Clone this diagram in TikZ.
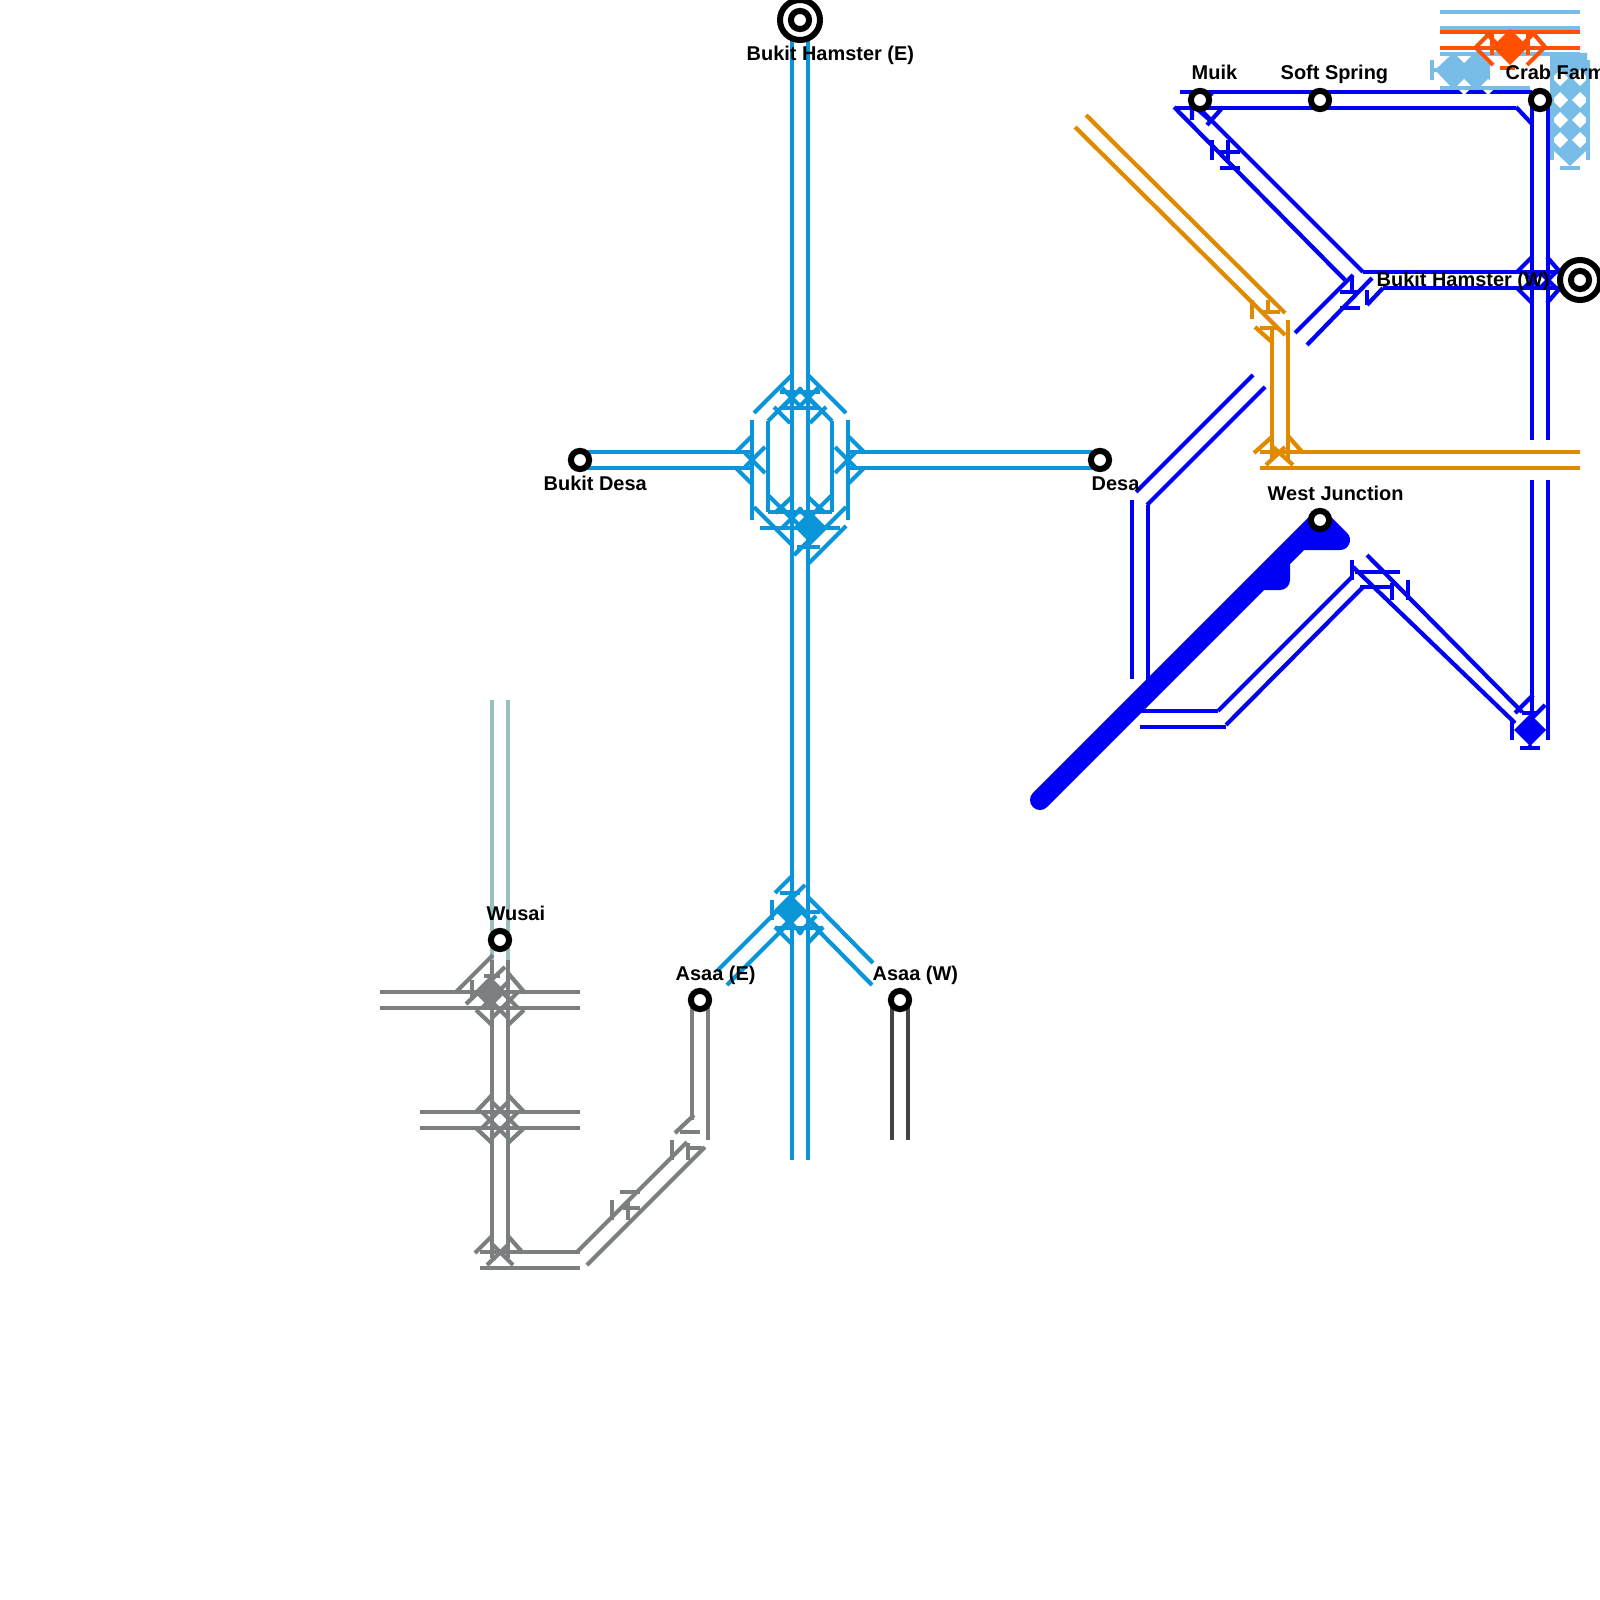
\documentclass[tikz,border=0pt]{standalone}
\usepackage{fontspec}
\setmainfont{Liberation Sans}
\definecolor{centralblue}{HTML}{0995D8}
\definecolor{eastblue}{HTML}{0000F5}
\definecolor{junctionorange}{HTML}{E08A00}
\definecolor{crabred}{HTML}{FF4F00}
\definecolor{crabsky}{HTML}{78BCE8}
\definecolor{wusaigray}{HTML}{7B7F7F}
\definecolor{asaadark}{HTML}{444444}
\definecolor{wusaiteal}{HTML}{99BFBF}
\tikzset{
  track/.style={line width=0.042cm},
  trunk/.style={line width=0.2cm, line cap=round, line join=round},
  station/.style={circle, draw=black, fill=white, line width=0.06cm, minimum size=0.182cm, inner sep=0pt, outer sep=0pt},
  interchange/.style={circle, draw=black, fill=white, line width=0.06cm, minimum size=0.4cm, inner sep=0pt, outer sep=0pt},
  stationlabel/.style={anchor=base west, inner sep=0pt, font=\bfseries\fontsize{5.67pt}{6pt}\selectfont}
}
\begin{document}
\begin{tikzpicture}[x=0.01cm, y=-0.01cm]
    \useasboundingbox (0,0) rectangle (1600,1600);

    % Stations
    \coordinate (hamstereTop) at (800,20);
    \coordinate (westjunctionPt) at (1320,520);

    % Wusai branch
    \draw[track, wusaiteal] (492,700) -- (492,960) (508,700) -- (508,960);

    % Asaa (W) stub
    \draw[track, asaadark] (892,1000) -- (892,1140) (908,1000) -- (908,1140);

    % Central line
    \begin{scope}[track, centralblue]
    \draw (hamstereTop) ++(-8,0) -- (792,1160);
    \draw (hamstereTop) ++(8,0) -- (808,1160);
    \draw (580,452) -- (752,452) (580,468) -- (752,468);
    \draw (848,452) -- (1100,452) (848,468) -- (1100,468);
    \draw (752,420) -- (752,520) (848,420) -- (848,520);
    \draw (768,421) -- (768,512) (832,421) -- (832,512);
    % upper junction
    \draw (754,413) -- (792,375) (846,413) -- (808,375);
    \draw (768,421) -- (792,397) (832,421) -- (808,397);
    \draw (774,407) -- (790,423) (826,407) -- (810,423);
    \draw (780,392) -- (820,392) (782,408) -- (818,408);
    \draw (782,408) -- (802,388) (818,408) -- (798,388);
    \draw (782,388) -- (802,408) (818,388) -- (798,408);
    % left and right junctions
    \draw (736,452) -- (752,436) (736,468) -- (752,484);
    \draw (864,452) -- (848,436) (864,468) -- (848,484);
    \draw (765,447) -- (745,467) (765,473) -- (745,453);
    \draw (835,447) -- (855,467) (835,473) -- (855,453);
    % lower junction
    \draw (754,507) -- (792,545) (846,507) -- (808,545);
    \draw (768,495) -- (790,517) (832,495) -- (810,517);
    \draw (792,497) -- (775,513) (808,497) -- (825,513);
    \draw (768,512) -- (832,512) (760,528) -- (840,528);
    \draw (846,526) -- (808,564) (823,527) -- (794,555);
    \draw (797,547) -- (820,547);
    \draw (782,528) -- (802,508) (818,528) -- (798,508);
    \draw (782,508) -- (802,528);
    \fill (810,511) -- (826,527) -- (810,543) -- (794,527) -- cycle;
    % Asaa junction
    \draw (717,971) -- (778,910) (727,985) -- (790,922);
    \draw (808,897) -- (873,963) (810,922) -- (872,985);
    \draw (775,893) -- (793,875) (805,885) -- (787,903);
    \draw (772,900) -- (772,920);
    \draw (780,893) -- (800,893) (775,912) -- (820,912) (775,928) -- (823,928);
    \draw (775,927) -- (793,945) (823,927) -- (808,943);
    \draw (782,928) -- (802,908) (818,928) -- (798,908);
    \draw (784,916) -- (802,934) (816,916) -- (798,934);
    \fill (790,894) -- (806,910) -- (790,926) -- (774,910) -- cycle;
    \end{scope}

    % Gray line
    \begin{scope}[track, wusaigray]
    \draw (380,992) -- (580,992) (380,1008) -- (580,1008);
    \draw (420,1112) -- (580,1112) (420,1128) -- (580,1128);
    \draw (480,1252) -- (580,1252) (480,1268) -- (580,1268);
    \draw (492,960) -- (492,1258) (508,960) -- (508,1258);
    \draw (456,992) -- (493,955) (466,1004) -- (505,967);
    \draw (472,980) -- (472,1000) (484,976) -- (500,976);
    \draw (476,1010) -- (492,1025) (524,1010) -- (508,1025);
    \draw (508,973) -- (525,993);
    \draw (482,1008) -- (508,982) (492,982) -- (518,1008);
    \draw (482,992) -- (508,1018) (518,992) -- (492,1018);
    \fill (490,976) -- (506,992) -- (490,1008) -- (474,992) -- cycle;
    % middle crossing
    \draw (476,1112) -- (492,1095) (524,1112) -- (508,1095);
    \draw (476,1128) -- (492,1143) (524,1128) -- (508,1143);
    \draw (482,1128) -- (508,1102) (492,1102) -- (518,1128);
    \draw (482,1112) -- (508,1138) (518,1112) -- (492,1138);
    % bottom corner
    \draw (475,1253) -- (492,1236) (523,1253) -- (508,1236);
    \draw (487,1265) -- (508,1245) (513,1265) -- (493,1245);
    % diagonal to Asaa (E)
    \draw (577,1252) -- (687,1142) (587,1265) -- (705,1147);
    \draw (612,1200) -- (612,1220) (628,1200) -- (628,1220);
    \draw (620,1192) -- (640,1192) (623,1208) -- (640,1208);
    \draw (672,1140) -- (672,1160) (688,1143) -- (688,1160);
    \draw (680,1132) -- (700,1132) (687,1148) -- (702,1148);
    \draw (675,1133) -- (694,1115);
    \draw (700,1000) ++(-8,0) -- (692,1120) (700,1000) ++(8,0) -- (708,1140);
    \end{scope}

    % Orange line
    \begin{scope}[track, junctionorange]
    \draw (1075,127) -- (1285,335) (1086,115) -- (1285,313);
    \draw (1272,327) -- (1272,460) (1288,320) -- (1288,460);
    \draw (1252,300) -- (1252,319) (1268,300) -- (1268,313);
    \draw (1263,312) -- (1280,312) (1260,328) -- (1277,328);
    \draw (1255,327) -- (1273,343);
    \draw (1260,452) -- (1580,452) (1260,468) -- (1580,468);
    \draw (1254,453) -- (1273,436) (1303,453) -- (1288,436);
    \draw (1266,465) -- (1285,447) (1293,465) -- (1273,447);
    \end{scope}

    % Thick line at West Junction
    \draw[trunk, eastblue] (1040,800) -- (westjunctionPt) -- (1340,540) -- (1300,540) -- (1280,560) -- (1280,580) -- (1260,580);

    % Blue line
    \begin{scope}[track, eastblue]
    \draw (1180,92) -- (1532,92) (1175,108) -- (1516,108);
    \draw (1516,107) -- (1532,124);
    \draw (1532,92) -- (1532,440) (1548,100) -- (1548,440);
    \draw (1532,480) -- (1532,740) (1548,480) -- (1548,740);
    \draw (1174,107) -- (1345,280) (1203,112) -- (1363,272);
    % Muik junction
    \draw (1223,107) -- (1207,125) (1212,93) -- (1198,108);
    \draw (1192,100) -- (1192,120) (1196,108) -- (1212,122);
    \draw (1212,140) -- (1212,160) (1228,140) -- (1228,160);
    \draw (1218,152) -- (1240,152) (1220,168) -- (1240,168);
    % Bukit Hamster (W) junction
    \draw (1363,272) -- (1560,272) (1383,288) -- (1560,288);
    \draw (1532,257) -- (1517,272) (1547,257) -- (1560,272);
    \draw (1517,288) -- (1532,303) (1547,303) -- (1560,288);
    \draw (1524,272) -- (1540,288) (1540,272) -- (1524,288);
    \draw (1540,272) -- (1556,288) (1556,272) -- (1540,288);
    \draw (1295,333) -- (1353,275) (1307,345) -- (1372,278);
    \draw (1367,305) -- (1383,288);
    \draw (1340,292) -- (1357,292) (1340,308) -- (1360,308);
    \draw (1352,277) -- (1352,293) (1367,290) -- (1367,305);
    % Middle section
    \draw (1253,375) -- (1136,492) (1265,387) -- (1147,505);
    \draw (1132,500) -- (1132,679) (1148,505) -- (1148,700);
    \draw (1140,711) -- (1218,711) (1140,727) -- (1226,727);
    \draw (1218,711) -- (1352,577) (1226,725) -- (1363,587);
    \draw (1367,555) -- (1522,712) (1353,567) -- (1515,723);
    \draw (1352,560) -- (1352,580) (1392,583) -- (1392,600) (1408,580) -- (1408,600);
    \draw (1355,572) -- (1400,572) (1360,587) -- (1393,587);
    % Lower junction
    \draw (1515,713) -- (1533,695) (1545,705) -- (1527,723);
    \draw (1512,720) -- (1512,740) (1522,713) -- (1538,713);
    \draw (1520,748) -- (1540,748) (1530,745) -- (1530,748);
    \fill (1530,714) -- (1546,730) -- (1530,746) -- (1514,730) -- cycle;
    \end{scope}

    % Crab Farm tangle
    \fill[crabsky] (1435,70) -- (1452,54) -- (1490,54) -- (1490,88) -- (1452,88) -- cycle;
    \fill[crabsky] (1553,53) -- (1587,53) -- (1587,150) -- (1570,166) -- (1553,150) -- cycle;
    \foreach \cx/\cy in {1464/55, 1464/87, 1488/55, 1488/87, 1560/78, 1580/78, 1560/100, 1580/100, 1560/120, 1580/120, 1560/140, 1580/140} {
      \fill[white] (\cx,\cy-8) -- (\cx+8,\cy) -- (\cx,\cy+8) -- (\cx-8,\cy) -- cycle;
    }
    \begin{scope}[track, crabsky]
    \draw (1440,12) -- (1580,12) (1440,28) -- (1580,28);
    \draw (1440,54) -- (1580,54) (1440,88) -- (1530,88);
    \draw (1432,60) -- (1432,80) (1552,55) -- (1552,160) (1588,60) -- (1588,160);
    \draw (1560,168) -- (1580,168) (1432,70) -- (1440,70);
    \end{scope}
    \begin{scope}[track, crabred]
    \draw (1440,32) -- (1580,32) (1440,48) -- (1580,48);
    \draw (1476,47) -- (1490,33) (1545,47) -- (1533,33);
    \draw (1475,47) -- (1493,65) (1545,47) -- (1527,65);
    \draw (1486,33) -- (1510,57) (1534,33) -- (1510,57);
    \draw (1492,32) -- (1492,55) (1528,32) -- (1528,55);
    \draw (1500,68) -- (1515,68);
    \fill (1510,29) -- (1528,47) -- (1510,65) -- (1492,47) -- cycle;
    \end{scope}

    % Station markers
    \node[interchange] (hamstereOuter) at (hamstereTop) {};
    \node[station] (hamstere) at (hamstereTop) {};
    \node[interchange] (hamsterwOuter) at (1580,280) {};
    \node[station] (hamsterw) at (1580,280) {};
    \node[station] (bukitdesa) at (580,460) {};
    \node[station] (desa) at (1100,460) {};
    \node[station] (muik) at (1200,100) {};
    \node[station] (softspring) at (1320,100) {};
    \node[station] (crabfarm) at (1540,100) {};
    \node[station] (westjunction) at (westjunctionPt) {};
    \node[station] (wusai) at (500,940) {};
    \node[station] (asaae) at (700,1000) {};
    \node[station] (asaaw) at (900,1000) {};

    % Labels
    \node[stationlabel] (hamstereLabel) at (746,61) {Bukit Hamster (E)};
    \node[stationlabel] (hamsterwLabel) at (1376,286) {Bukit Hamster (W)};
    \node[stationlabel] (bukitdesaLabel) at (543,490) {Bukit Desa};
    \node[stationlabel] (desaLabel) at (1091,490) {Desa};
    \node[stationlabel] (muikLabel) at (1191,80) {Muik};
    \node[stationlabel] (softspringLabel) at (1280,80) {Soft Spring};
    \node[stationlabel] (crabfarmLabel) at (1505,80) {Crab Farm};
    \node[stationlabel] (westjunctionLabel) at (1267,500) {West Junction};
    \node[stationlabel] (wusaiLabel) at (486,920) {Wusai};
    \node[stationlabel] (asaaeLabel) at (675,980) {Asaa (E)};
    \node[stationlabel] (asaawLabel) at (872,980) {Asaa (W)};
\end{tikzpicture}
\end{document}
